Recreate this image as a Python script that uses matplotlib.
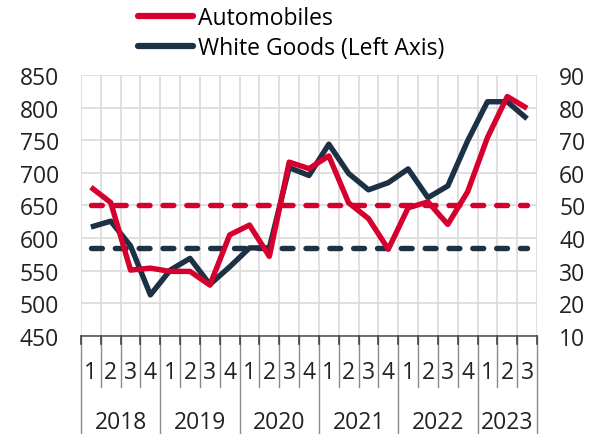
import matplotlib
matplotlib.use("Agg")
import matplotlib.pyplot as plt
import matplotlib.transforms as mtransforms

plt.rcParams['font.family'] = ['Open Sans', 'DejaVu Sans']

quarters = ["1","2","3","4","1","2","3","4","1","2","3","4","1","2","3","4","1","2","3","4","1","2","3"]
years = ["2018", "2019", "2020", "2021", "2022", "2023"]
year_counts = [4, 4, 4, 4, 4, 3]

# Automobiles (right axis)
automobiles = [55.6, 50.9, 30.2, 30.8, 29.8, 29.8, 25.6, 41.0, 44.0, 34.4, 63.3, 61.3,
               65.2, 50.8, 46.0, 36.6, 49.3, 51.1, 44.2, 54.2, 70.8, 83.4, 79.8]
auto_avg = 50.2
# White Goods (left axis)
white_goods = [617, 626, 588, 513, 551, 569, 529, 556, 585, 585, 708, 696,
               744, 699, 674, 685, 706, 662, 680, 749, 809, 809, 783]
wg_avg = 585

RED = "#D6002F"
NAVY = "#1D3145"
GRID = "#DADADA"
FS = 16.5
LW = 3.9

fig = plt.figure(figsize=(6, 4.35), dpi=100)
ax = fig.add_axes([0.135, 0.2253, 0.76, 0.6])
ax2 = ax.twinx()

n = len(quarters)
x = list(range(n))

ax.set_xlim(-0.5, n - 0.5)
ax.set_ylim(450, 850)
ax.set_yticks(range(450, 851, 50))
ax2.set_ylim(10, 90)
ax2.set_yticks(range(10, 91, 10))

# grid
for v in range(450, 851, 50):
    ax.axhline(v, color=GRID, lw=1.2, zorder=0)
for i in range(n + 1):
    ax.axvline(i - 0.5, color=GRID, lw=1.2, zorder=0)

for a in (ax, ax2):
    for s in a.spines.values():
        s.set_visible(False)
    a.tick_params(length=0, labelsize=FS, pad=16, colors="#222222")
ax.set_xticks([])
ax2.set_xticks([])

ax.plot(x, [wg_avg] * n, color=NAVY, lw=LW, dashes=(2, 2.4), dash_capstyle='round', zorder=3)
ax.plot(x, white_goods, color=NAVY, lw=LW, solid_capstyle='butt', zorder=4,
        label="White Goods (Left Axis)")
ax2.plot(x, [auto_avg] * n, color=RED, lw=LW, dashes=(2, 2.4), dash_capstyle='round', zorder=3)
ax2.plot(x, automobiles, color=RED, lw=LW, solid_capstyle='butt', zorder=2,
         label="Automobiles")

# category axis
trans = mtransforms.blended_transform_factory(ax.transData, ax.transAxes)
ax.plot([-0.5, n - 0.5], [0, 0], transform=trans, color="#555555", lw=1.2, clip_on=False)
year_bounds = [0]
for c in year_counts:
    year_bounds.append(year_bounds[-1] + c)
for i in range(n + 1):
    if i in year_bounds or i == n:
        ax.plot([i - 0.5, i - 0.5], [0, -0.376], transform=trans, color="#8A8A8A", lw=1.0, clip_on=False)
    else:
        ax.plot([i - 0.5, i - 0.5], [0, -0.196], transform=trans, color="#8A8A8A", lw=1.0, clip_on=False)
    ax.plot([i - 0.5, i - 0.5], [0, -0.03], transform=trans, color="#444444", lw=1.2, clip_on=False)
for i, q in enumerate(quarters):
    ax.text(i, -0.138, q, transform=trans, ha='center', va='center', fontsize=FS, color="#222222")
for k, yl in enumerate(years):
    mid = (year_bounds[k] + year_bounds[k + 1] - 1) / 2
    ax.text(mid, -0.328, yl, transform=trans, ha='center', va='center', fontsize=FS, color="#222222")

h1, l1 = ax2.get_legend_handles_labels()
h2, l2 = ax.get_legend_handles_labels()
leg = fig.legend(h1 + h2, l1 + l2, loc='upper left', bbox_to_anchor=(138 / 600, 1 - 7 / 435),
                 frameon=False, fontsize=FS, handlelength=2.4, handletextpad=0.2,
                 labelspacing=0.25, borderpad=0, borderaxespad=0)
for line in leg.get_lines():
    line.set_linewidth(4.5)
    line.set_solid_capstyle('round')

fig.savefig("out.png", dpi=100)
